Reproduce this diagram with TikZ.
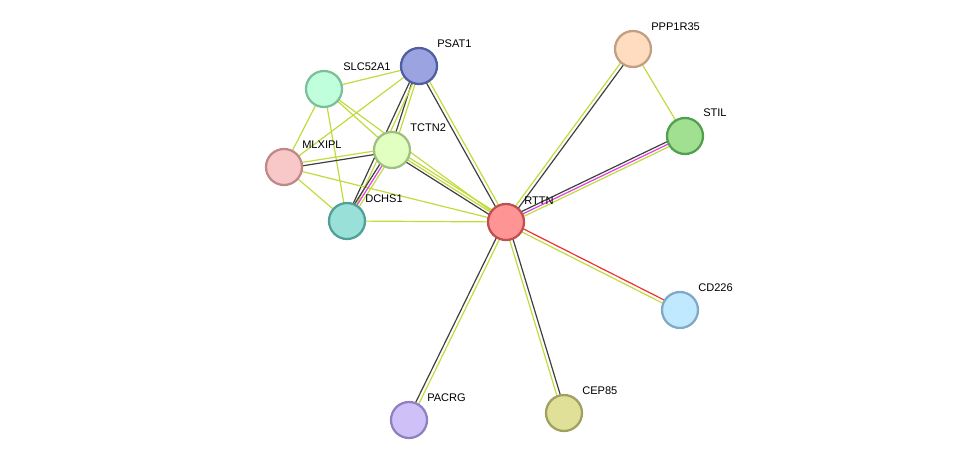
\documentclass[tikz,border=0pt]{standalone}
\usepackage{fontspec}
\setmainfont{Liberation Sans}
\usetikzlibrary{calc,backgrounds}
\definecolor{ey}{HTML}{C0DC3C}
\definecolor{ek}{HTML}{404040}
\definecolor{em}{HTML}{E040E0}
\definecolor{er}{HTML}{F03030}
\tikzset{prot/.style={circle,minimum size=27pt,inner sep=0pt,line width=1.7pt},
lab/.style={anchor=west,font=\fontsize{8.3}{10}\selectfont,inner sep=0pt}}
\newcommand{\eg}[4]{\draw[#4,line width=0.9pt] ($(#1.center)!#3!90:(#2.center)$) -- ($(#2.center)!#3!-90:(#1.center)$);}
\begin{document}
\begin{tikzpicture}[x=0.75pt,y=-0.75pt]
\useasboundingbox (0,0) rectangle (976,466);
\node[prot,fill={rgb,255:red,155;green,163;blue,224},draw={rgb,255:red,79;green,94;blue,160}] (psat) at (419,66) {};
\node[prot,fill={rgb,255:red,192;green,255;blue,220},draw={rgb,255:red,124;green,192;blue,154}] (slc) at (324,89) {};
\node[prot,fill={rgb,255:red,224;green,255;blue,192},draw={rgb,255:red,160;green,192;blue,128}] (tctn) at (392,150) {};
\node[prot,fill={rgb,255:red,248;green,200;blue,200},draw={rgb,255:red,192;green,136;blue,136}] (mlx) at (284,167) {};
\node[prot,fill={rgb,255:red,152;green,224;blue,216},draw={rgb,255:red,80;green,160;blue,152}] (dchs) at (347,221) {};
\node[prot,fill={rgb,255:red,255;green,148;blue,148},draw={rgb,255:red,192;green,80;blue,80}] (rttn) at (506,222) {};
\node[prot,fill={rgb,255:red,255;green,220;blue,192},draw={rgb,255:red,192;green,160;blue,128}] (ppp) at (633,49) {};
\node[prot,fill={rgb,255:red,160;green,224;blue,144},draw={rgb,255:red,80;green,160;blue,80}] (stil) at (685,136) {};
\node[prot,fill={rgb,255:red,192;green,232;blue,255},draw={rgb,255:red,128;green,168;blue,200}] (cd) at (680,310) {};
\node[prot,fill={rgb,255:red,224;green,224;blue,152},draw={rgb,255:red,160;green,160;blue,96}] (cep) at (564,413) {};
\node[prot,fill={rgb,255:red,208;green,192;blue,248},draw={rgb,255:red,144;green,128;blue,192}] (pac) at (409,420) {};
\node[lab] (l1) at (437,44) {PSAT1};
\node[lab] (l2) at (343,67) {SLC52A1};
\node[lab] (l3) at (410,128) {TCTN2};
\node[lab] (l4) at (302,145) {MLXIPL};
\node[lab] (l5) at (365,199) {DCHS1};
\node[lab] (l6) at (524,201) {RTTN};
\node[lab] (l7) at (651,27) {PPP1R35};
\node[lab] (l8) at (703,113) {STIL};
\node[lab] (l9) at (698,288) {CD226};
\node[lab] (l10) at (582,391) {CEP85};
\node[lab] (l11) at (427,398) {PACRG};
\begin{scope}[on background layer]
\eg{slc}{psat}{0pt}{ey}
\eg{slc}{tctn}{0pt}{ey}
\eg{slc}{mlx}{0pt}{ey}
\eg{slc}{dchs}{0pt}{ey}
\eg{slc}{rttn}{0pt}{ey}
\eg{psat}{mlx}{0pt}{ey}
\eg{psat}{tctn}{-1.3pt}{ek}\eg{psat}{tctn}{1.3pt}{ey}
\eg{psat}{dchs}{-1.3pt}{ek}\eg{psat}{dchs}{1.3pt}{ey}
\eg{psat}{rttn}{-1.3pt}{ek}\eg{psat}{rttn}{1.3pt}{ey}
\eg{mlx}{tctn}{1.3pt}{ey}\eg{mlx}{tctn}{-1.3pt}{ek}
\eg{mlx}{dchs}{0pt}{ey}
\eg{mlx}{rttn}{0pt}{ey}
\eg{tctn}{dchs}{-2pt}{ek}\eg{tctn}{dchs}{0pt}{em}\eg{tctn}{dchs}{2pt}{ey}
\eg{tctn}{rttn}{-2pt}{ek}\eg{tctn}{rttn}{0pt}{ey}\eg{tctn}{rttn}{2pt}{ey}
\eg{dchs}{rttn}{0pt}{ey}
\eg{rttn}{ppp}{-1.3pt}{ek}\eg{rttn}{ppp}{1.3pt}{ey}
\eg{rttn}{stil}{2pt}{ek}\eg{rttn}{stil}{0pt}{em}\eg{rttn}{stil}{-2pt}{ey}
\eg{rttn}{cd}{1.3pt}{er}\eg{rttn}{cd}{-1.3pt}{ey}
\eg{rttn}{cep}{1.3pt}{ek}\eg{rttn}{cep}{-1.3pt}{ey}
\eg{rttn}{pac}{-1.3pt}{ek}\eg{rttn}{pac}{1.3pt}{ey}
\eg{ppp}{stil}{0pt}{ey}
\end{scope}
\end{tikzpicture}
\end{document}
